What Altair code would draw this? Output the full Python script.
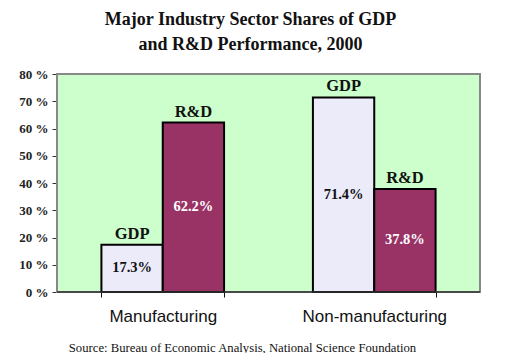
import altair as alt
import pandas as pd

sectors = ["Manufacturing", "Non-manufacturing", "Manufacturing", "Non-manufacturing"]
measures = ["GDP", "GDP", "R&D", "R&D"]
values = [17.3, 71.4, 62.2, 37.8]
y_ticks = [0, 10, 20, 30, 40, 50, 60, 70, 80]

df = pd.DataFrame({"sector": sectors, "measure": measures, "value": values})
df["label"] = df["value"].map(lambda v: f"{v:.1f}%")
df["half"] = df["value"] / 2

serif = "Liberation Serif"
sans = "Liberation Sans"
W, H = 423, 218

x_enc = alt.X(
    "sector:N",
    sort=["Manufacturing", "Non-manufacturing"],
    scale=alt.Scale(paddingInner=0.42, paddingOuter=0.21),
    axis=alt.Axis(
        title="Source: Bureau of Economic Analysis, National Science Foundation",
        titleFont=serif, titleFontSize=12.7, titleFontWeight="normal", titleColor="#111",
        titleX=185, titleY=59, titleBaseline="alphabetic", titleAlign="center",
        labelFont=sans, labelFontSize=17, labelColor="#111", labelAngle=0,
        labelPadding=11, tickSize=5, tickColor="#111", tickBand="extent",
        domain=False,
    ),
)
xo = alt.XOffset("measure:N", sort=["GDP", "R&D"])

y_axis = alt.Axis(
    title=None, values=y_ticks, labelExpr="datum.value + ' %'",
    labelFont=serif, labelFontSize=13, labelFontWeight="bold", labelColor="#222",
    tickSize=5, tickColor="#333", labelPadding=4, grid=False, domain=False,
    labelOverlap=False,
)
y_scale = alt.Scale(domain=[0, 80], nice=False)

panel = alt.Chart(pd.DataFrame({"p": [0]})).mark_rect(
    fill="#CCFFCC", stroke="#888888", strokeWidth=2
).encode(x=alt.value(0), x2=alt.value(W), y=alt.value(0), y2=alt.value(H))

base = alt.Chart(df).encode(x=x_enc, xOffset=xo)

bars = base.mark_bar(stroke="black", strokeWidth=2, opacity=1).encode(
    y=alt.Y("value:Q", scale=y_scale, axis=y_axis),
    color=alt.Color(
        "measure:N",
        scale=alt.Scale(domain=["GDP", "R&D"], range=["#EBEBFA", "#993366"]),
        legend=None,
    ),
)

inner = base.mark_text(font=serif, fontSize=14.5, fontWeight="bold", baseline="middle").encode(
    y=alt.Y("half:Q", scale=y_scale, axis=y_axis),
    text="label:N",
    color=alt.Color(
        "measure:N",
        scale=alt.Scale(domain=["GDP", "R&D"], range=["#111111", "#FFFFFF"]),
        legend=None,
    ),
)

top = base.mark_text(font=serif, fontSize=16.5, fontWeight="bold", baseline="alphabetic", dy=-6, color="#111").encode(
    y=alt.Y("value:Q", scale=y_scale, axis=y_axis),
    text="measure:N",
)

baseline_rule = alt.Chart(pd.DataFrame({"p": [0]})).mark_rule(
    color="#333333", strokeWidth=1.5
).encode(x=alt.value(0), x2=alt.value(W), y=alt.value(H))

chart = (
    alt.layer(panel, bars, inner, top, baseline_rule)
    .resolve_scale(color="independent")
    .properties(
        width=W,
        height=H,
        background="white",
        padding={"left": 49, "top": 66, "right": 23, "bottom": 61},
        autosize=alt.AutoSizeParams(type="none"),
        title=alt.TitleParams(
            text=["Major Industry Sector Shares of GDP", "and R&D Performance, 2000"],
            font=serif, fontSize=18, fontWeight="bold", color="#111",
            lineHeight=25, anchor="middle", dx=-18, offset=14,
        ),
    )
    .configure_view(stroke="transparent")
)

chart.save("out.html", embed_options={"renderer": "svg", "actions": False})
